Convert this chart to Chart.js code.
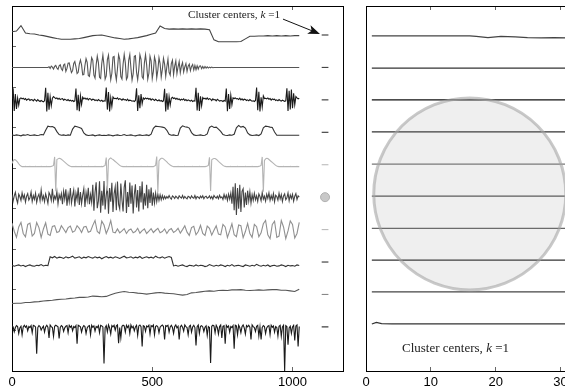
<!DOCTYPE html>
<html>
<head>
<meta charset="utf-8">
<script src="https://cdn.jsdelivr.net/npm/chart.js@4.4.0/dist/chart.umd.min.js"></script>
<style>
  html, body { margin: 0; padding: 0; width: 565px; height: 392px; overflow: hidden; background: #fff; }
  #left { position: absolute; left: 0; top: 0; }
  #right { position: absolute; left: 350px; top: 0; }
  .note { position: absolute; font-family: "Liberation Serif", "DejaVu Serif", serif; color: #222; white-space: nowrap; line-height: 1; }
</style>
</head>
<body>
<canvas id="left" width="350" height="392"></canvas>
<canvas id="right" width="240" height="392"></canvas>
<div class="note" style="left:188px;top:9px;font-size:11.2px">Cluster centers, <i>k</i> =1</div>
<div class="note" style="left:402px;top:341px;font-size:13px">Cluster centers, <i>k</i> =1</div>
<script>
const rowOffset = [100, 90, 80, 70, 60, 50, 40, 30, 20, 10];
const leftTicks = [0, 500, 1000];
const rightTicks = [0, 10, 20, 30];
const rowTickValues = [1, 2, 3, 4, 5, 6, 7, 8];

const trace1 = [1.0,1.2,2.9,0.6,0.4,0.3,0.0,-0.2,-0.5,-0.8,
  -1.1,-1.3,-1.3,-1.3,-1.2,-1.1,-0.8,-0.5,-0.2,-0.1,
  0.0,-0.3,-0.6,-0.9,-1.1,-1.3,-1.2,-1.0,-0.8,-0.5,
  -0.2,0.2,0.6,2.8,2.0,1.8,1.9,1.8,1.9,1.8,
  1.9,1.8,1.9,1.8,1.6,-1.5,-2.1,-2.1,-2.1,-2.1,
  -2.1,-2.0,-1.2,-0.4,-0.4,-0.3,-0.3,-0.2,-0.3,-0.2,
  -0.3,-0.2,-0.3,-0.2,-0.2];

const trace2 = [0,0,0,0,0,0,0,0,0,0,0,0,0,0,0,0,0,0,0,0,
  0,0,0,0,0,0,0,0,0,0,0,0,0,
  0.2,-0.3,0.4,0.1,-0.5,0.3,0.6,-0.2,-0.6,0.5,0.8,-0.4,-0.9,0.7,1.0,
  -1.2,-0.3,1.3,1.4,-0.2,-1.6,-1.0,1.2,1.8,0.2,-1.9,-1.5,1.0,2.3,0.8,-2.3,-2.2,0.6,2.7,1.6,-2.5,-2.8,0.0,3.0,2.2,
  -2.4,-3.3,0.8,3.5,1.5,-3.0,-3.4,1.2,3.8,0.6,-3.6,-2.6,2.4,3.8,-0.5,-3.8,-1.8,3.2,3.4,-1.6,
  -3.9,-0.4,3.9,2.6,-2.8,-3.6,1.0,4.0,1.4,-3.7,-3.0,2.2,4.0,-0.2,-3.9,-2.0,3.4,3.6,-1.5,-3.8,
  -0.6,3.9,2.5,-2.9,-3.5,1.4,3.9,0.8,
  -3.6,-1.8,3.4,2.0,-3.4,-1.2,3.2,1.8,-3.2,-0.8,3.0,1.2,-3.0,-0.6,2.8,1.0,-2.7,0.2,2.6,-1.5,
  -2.4,1.2,2.2,-2.2,0.4,2.0,-1.9,0.2,1.8,-1.6,0.4,1.5,-1.4,0.2,1.2,-1.2,0.4,1.0,-1.0,0.3,
  0.9,-0.8,0.6,-0.7,0.5,-0.5,0.4,0.5,-0.4,0.3,-0.3,0.3,-0.2,0.2,-0.2,0.1,-0.1,0.1,-0.1,0,
  0,0,0,0,0,0,0,0,0,0,0,0,0,0,0,0,0,0,0,0,
  0,0,0,0,0,0,0,0,0,0,0,0,0,0,0,0,0,0,0,0,
  0,0,0,0,0,0,0,0,0,0,0,0,0,0,0,0,0,0,0,0,
  0,0,0,0,0,0,0,0,0,0,0,0,0,0,0,0];

const trace3 = [0.3,3.6,-3.4,1.8,-2.8,0.6,-1.6,0.4,
  0.6,0.3,0.5,0.1,0.4,-0.1,0.2,0.3,-0.2,0.1,0.0,-0.3,0.2,-0.1,-0.4,0.1,-0.3,-0.5,-0.2,-0.4,-0.6,-0.3,
  3.7,-3.6,2.2,-3.0,0.9,-1.8,0.5,1.0,
  0.7,0.4,0.6,0.2,0.5,0.1,0.3,0.4,-0.1,0.2,0.0,-0.2,0.1,-0.3,-0.1,-0.4,-0.2,-0.5,-0.3,
  3.5,-3.2,1.6,-3.5,1.2,-1.4,0.8,0.3,
  0.6,0.2,0.5,0.0,0.4,0.3,-0.1,0.2,0.1,-0.2,0.0,-0.3,0.1,-0.2,-0.4,-0.1,-0.5,-0.3,-0.4,
  3.8,-3.0,2.4,-3.6,0.6,-2.0,0.9,0.4,
  0.5,0.3,0.6,0.1,0.4,0.2,-0.1,0.3,0.0,0.1,-0.2,0.2,-0.3,-0.1,-0.2,-0.4,-0.3,-0.5,-0.2,
  3.6,-3.4,1.4,-2.6,1.8,-1.2,0.6,0.2,
  0.6,0.3,0.5,0.2,0.4,-0.1,0.3,0.1,-0.2,0.2,-0.1,-0.3,0.0,-0.4,-0.2,-0.5,-0.3,
  3.4,-3.6,2.0,-3.0,1.0,-1.6,0.5,0.8,
  0.4,0.6,0.2,0.5,0.1,0.3,-0.1,0.2,0.0,0.3,-0.2,0.1,-0.3,0.0,-0.2,-0.4,-0.1,-0.5,-0.3,-0.4,
  3.7,-3.3,2.2,-3.4,1.1,-1.8,0.7,0.3,
  0.5,0.2,0.6,0.1,0.4,0.2,-0.2,0.3,0.0,0.1,-0.3,0.2,-0.1,-0.4,-0.2,-0.3,-0.5,-0.2,-0.4,
  3.5,-3.5,1.8,-2.8,1.4,-1.5,0.6,0.4,
  0.6,0.3,0.4,0.1,0.5,0.0,0.3,-0.1,0.2,0.1,-0.2,0.0,-0.3,0.1,-0.2,-0.4,-0.3,-0.5,-0.2,
  3.8,-3.2,2.5,-3.6,0.8,-2.2,1.2,0.4,
  0.5,0.3,0.6,0.2,0.4,-0.1,0.3,0.1,0.2,-0.2,0.0,-0.3,0.1,-0.2,-0.4,-0.1,-0.3,-0.5,-0.3,
  3.6,-3.4,2.8,-3.0,3.2,-2.6,2.0,-1.5,1.0,0.6,0.3,0.5];

const trace4 = [-0.8,-1.0,-0.8,-0.9,-1.1,-0.8,-0.9,-0.7,-1.0,-0.9,-0.8,-1.0,-0.9,-0.7,-0.8,
  0.6,1.9,1.7,1.8,1.4,0.2,
  -0.7,-0.9,-0.8,-1.0,-0.8,-0.9,
  1.0,1.9,1.7,1.5,1.2,-0.2,
  -0.8,-1.0,-0.9,-0.8,-1.1,-0.9,-0.8,-1.0,-0.9,-1.0,-0.8,-0.9,-1.1,-0.9,-0.8,
  -1.0,-0.9,-0.7,-1.0,-0.9,-0.8,-1.0,-1.1,-0.9,-0.8,-1.0,-0.9,-0.8,-1.0,-0.6,
  1.2,1.9,1.8,1.7,1.6,1.4,0.6,
  -0.6,-0.9,-0.8,-1.0,-0.9,
  1.3,2.0,1.7,1.6,1.3,-0.1,
  -0.8,-1.0,-0.9,-0.8,-1.0,-0.9,-0.5,
  1.5,1.9,1.5,1.6,1.0,0.3,
  -0.7,-0.9,-1.0,-0.8,-0.9,-0.6,
  1.4,2.1,1.6,1.8,1.3,-0.2,
  -0.8,-1.0,-0.9,-0.8,-1.0,-0.5,
  1.4,1.9,1.8,1.6,1.5,0.1,
  -0.9,-0.9,-0.9,-0.9,-0.9,-0.9,-0.9,-0.9,-0.9,-0.9,-0.9];

const trace5 = [0.4,1.2,1.6,1.5,1.2,0.8,0.3,-0.1,-0.4,-0.6,
  -0.6,-0.6,-0.5,-0.6,-0.6,-0.6,-0.5,-0.6,-0.6,-0.6,-0.6,-0.5,-0.6,-0.6,-0.6,-0.6,-0.5,-0.6,-0.6,-0.6,-0.6,-0.5,-0.6,-0.6,-0.6,-0.5,-0.4,-0.2,
  2.4,-8.2,1.6,1.8,2.0,1.9,1.7,1.4,1.1,0.8,0.5,0.2,-0.1,-0.3,-0.5,-0.6,-0.6,
  -0.6,-0.6,-0.5,-0.6,-0.6,-0.6,-0.6,-0.5,-0.6,-0.6,-0.6,-0.6,-0.6,-0.5,-0.6,-0.6,-0.6,-0.6,-0.6,-0.5,-0.6,-0.6,-0.6,-0.6,-0.6,-0.5,-0.6,-0.4,-0.2,
  2.2,-8.0,1.4,1.9,2.1,1.8,1.6,1.3,1.0,0.7,0.4,0.1,-0.2,-0.4,-0.5,-0.6,-0.6,
  -0.6,-0.5,-0.6,-0.6,-0.6,-0.6,-0.6,-0.5,-0.6,-0.6,-0.6,-0.6,-0.6,-0.6,-0.5,-0.6,-0.6,-0.6,-0.6,-0.6,-0.5,-0.6,-0.6,-0.6,-0.6,-0.6,-0.4,-0.2,
  2.5,-8.4,1.2,1.7,2.0,2.0,1.8,1.5,1.2,0.9,0.5,0.2,-0.1,-0.3,-0.5,-0.6,-0.6,
  -0.6,-0.6,-0.5,-0.6,-0.6,-0.6,-0.6,-0.6,-0.5,-0.6,-0.6,-0.6,-0.6,-0.6,-0.6,-0.5,-0.6,-0.6,-0.6,-0.6,-0.6,-0.5,-0.6,-0.6,-0.6,-0.6,-0.6,-0.5,-0.4,-0.2,
  2.3,-8.1,1.5,1.8,1.9,1.9,1.7,1.4,1.0,0.7,0.4,0.1,-0.2,-0.4,-0.5,-0.6,-0.6,
  -0.6,-0.6,-0.5,-0.6,-0.6,-0.6,-0.6,-0.6,-0.5,-0.6,-0.6,-0.6,-0.6,-0.6,-0.6,-0.5,-0.6,-0.6,-0.6,-0.6,-0.6,-0.5,-0.6,-0.6,-0.6,-0.6,-0.6,-0.5,-0.4,-0.2,
  2.4,-8.3,1.3,1.8,2.0,1.9,1.6,1.3,1.0,0.7,0.4,0.1,-0.2,-0.4,-0.5,-0.6,-0.6,
  -0.6,-0.6,-0.5,-0.6,-0.6,-0.6,-0.6,-0.6,-0.5,-0.6,-0.6,-0.6,-0.6,-0.6,-0.5,-0.6,-0.6];

const trace6 = [0.8,-1.2,0.4,1.5,-0.6,-1.8,0.9,0.2,-1.0,1.3,-0.4,0.7,-1.5,0.3,1.1,-0.9,-0.2,1.6,-1.3,0.5,
  -0.7,1.2,-1.6,0.1,0.9,-1.1,2.2,-0.8,0.4,-1.4,1.0,-0.3,-1.9,1.4,0.6,-1.0,2.6,-1.2,0.3,-0.6,
  1.7,-2.0,0.8,-0.5,1.1,
  -2.2,1.8,-0.6,2.4,-2.6,0.9,-1.4,2.8,-1.8,0.4,2.2,-2.9,1.2,-0.8,3.0,-2.4,1.6,-2.0,0.6,2.6,
  -3.0,1.4,-1.0,2.9,-2.2,0.8,-1.6,
  3.8,-4.2,1.5,4.6,-3.4,-1.2,4.9,-4.8,2.0,-2.6,5.0,-3.8,0.6,3.6,-5.1,2.8,-1.4,4.4,-4.6,1.0,
  3.2,-4.0,4.8,-2.2,-3.6,4.2,-0.8,-4.4,3.0,5.2,-4.9,1.6,-3.0,4.5,-2.0,3.6,-5.0,0.8,4.0,-3.2,
  2.2,-4.4,3.4,-1.6,4.8,-3.8,1.2,-2.6,3.8,-3.4,2.4,-1.8,3.0,-2.6,1.4,
  -1.8,1.2,-1.4,0.9,-1.0,0.7,-0.8,0.5,-0.6,
  0.3,-0.5,0.2,-0.3,0.5,-0.2,-0.6,0.4,0.1,-0.4,0.3,-0.1,-0.5,0.4,0.0,-0.3,0.5,-0.4,0.2,-0.2,
  -0.5,0.3,0.1,-0.4,0.4,-0.1,-0.3,0.5,-0.5,0.2,0.0,-0.4,0.3,-0.2,0.4,-0.5,0.1,0.3,-0.3,-0.1,
  0.4,-0.4,0.2,-0.6,0.5,0.0,-0.3,0.3,-0.5,0.6,-0.2,0.1,-0.7,0.8,-0.4,0.6,-1.0,0.9,-0.6,1.2,
  -2.0,3.2,-4.0,4.3,-5.5,2.8,-3.6,3.8,-4.6,1.8,2.6,-3.2,1.4,-2.4,2.0,-1.2,1.6,-1.8,0.8,-1.0,
  1.2,-0.8,0.4,-1.3,1.0,0.2,-1.1,1.4,-0.6,0.3,-1.2,0.9,-0.4,1.3,-1.0,0.5,-0.7,1.1,-1.4,0.6,
  0.2,-0.9,1.2,-0.5,0.8,-1.3,0.4,1.0,-0.8,-0.2,1.3,-1.1,0.7,-0.4,0.9,-1.2,0.3,1.1,-0.7,0.4,0.0];

const trace7 = [2.0,-0.5,-2.4,0.8,2.2,-1.2,-2.2,1.6,2.0,-2.0,-1.2,2.2,0.6,-2.4,0.2,2.1,-1.4,-1.8,
  1.0,1.2,-0.9,-0.6,1.2,0.2,-0.9,0.6,1.1,-0.8,-0.4,1.2,0.4,-0.9,0.8,1.0,-0.8,-0.5,1.3,
  2.8,-0.6,-1.2,2.6,1.4,-1.2,0.4,2.8,-0.8,-1.0,
  0.2,-1.0,-0.4,0.3,-1.2,-0.2,0.2,-1.0,-0.6,0.4,-1.1,-0.3,0.2,-1.2,-0.5,0.3,-0.9,-0.2,0.4,-1.0,
  -0.6,0.2,-1.2,-0.1,0.3,-0.9,-0.4,0.4,-1.1,0.0,
  1.2,-0.8,-1.8,0.6,1.0,-1.6,-0.6,1.3,-1.2,-1.8,1.1,0.4,-1.7,-0.2,1.2,-1.4,-1.6,
  1.6,0.8,-2.4,-0.4,1.8,-1.6,-2.2,1.4,1.2,-2.5,-0.6,1.9,-1.2,-2.4,1.6,0.9,-2.2,-1.0,1.8,
  2.8,-1.6,-2.8,1.6,2.6,-2.4,-2.0,2.8,0.8,-2.8,-0.4,2.7,1.6,-2.6,-1.2,2.2];

const trace8 = [-1.0,-1.3,-1.1,-0.9,-1.2,-1.0,-1.4,-1.1,-0.9,-1.2,-1.3,-1.0,-1.1,-0.8,-1.2,-1.0,-1.1,
  1.6,1.3,1.7,1.2,1.5,1.4,1.1,1.6,1.3,1.5,1.8,1.2,1.4,1.6,1.1,1.5,1.3,1.7,1.4,1.2,
  1.6,1.3,1.5,1.0,1.4,1.7,1.3,1.5,1.2,1.6,1.4,1.1,1.5,1.8,1.3,1.4,1.6,1.2,1.5,1.3,
  1.7,1.1,1.4,1.6,1.3,1.5,1.2,1.8,1.4,1.3,1.6,1.2,1.5,1.7,1.4,
  -1.2,-1.0,-1.3,-1.1,-0.9,-1.2,-1.4,-1.0,-1.1,-1.3,-0.9,-1.2,-1.0,-1.1,-1.4,-1.2,-0.8,-1.1,-1.3,-1.0,
  -1.2,-0.9,-1.1,-1.4,-1.0,-1.2,-0.8,-1.3,-1.1,-1.0,-1.2,-1.4,-0.9,-1.1,-1.3,-1.0,-1.2,-0.7,-1.1,-1.3,
  -1.0,-1.2,-0.9,-1.4,-1.1,-1.0,-1.3,-1.2,-0.9,-1.1,-1.4,-1.0,-1.2,-1.1,-1.3,-0.9,-1.1];

const trace9 = [-2.8,-2.7,-2.7,-2.5,-2.5,-2.3,-2.2,-2.0,-1.9,-1.8,
  -1.6,-1.5,-1.4,-1.2,-1.1,-0.9,-0.9,-0.8,-0.5,-0.6,
  -0.7,-0.6,-0.1,0.4,0.7,0.9,0.7,0.6,0.4,0.3,
  0.1,0.3,0.5,0.6,0.4,0.3,0.2,0.0,-0.2,0.0,
  0.5,0.6,0.8,1.0,1.1,1.0,1.2,1.3,1.2,1.4,
  1.4,1.5,1.3,1.2,1.3,1.4,1.3,1.4,1.5,1.5,
  1.3,1.3,1.1,0.9,1.6];

const trace10 = [0.3,0.0,-1.5,-0.2,0.4,0.1,-2.0,-0.3,0.2,-2.4,0.0,0.5,-0.1,0.3,-1.2,0.1,-0.2,0.4,-1.8,0.5,
  0.3,0.0,-8.3,-0.2,0.4,0.1,-1.0,-0.3,0.2,-1.6,0.0,0.5,-0.1,-3.4,0.6,0.1,-0.2,-2.9,0.2,0.5,
  0.3,0.0,-3.6,-0.2,0.4,0.1,-1.4,-0.3,0.2,0.4,-1.8,0.5,-0.1,0.3,-1.2,0.1,-0.2,0.4,-5.2,0.5,
  0.3,0.0,-1.6,-0.2,0.4,0.1,-2.0,-0.3,0.2,0.4,-2.4,0.5,-0.1,0.3,-1.3,0.1,-0.2,0.4,-1.8,0.5,
  0.3,0.0,-11.3,-0.2,0.4,-1.5,0.6,-0.3,-2.2,0.4,0.0,0.5,-1.0,0.3,0.6,-5.0,-0.2,-3.4,0.2,0.5,
  0.3,-1.6,0.5,-0.2,0.4,-2.0,0.6,-0.3,0.2,-1.2,0.0,0.5,-2.6,0.3,0.6,0.1,-6.0,0.4,0.2,-1.4,
  0.3,0.0,0.5,-2.2,0.4,0.1,0.6,-2.4,0.2,0.4,0.0,-1.8,-0.1,0.3,0.6,0.1,-3.9,0.4,0.2,0.5,
  -1.6,0.0,0.5,-0.2,-2.0,0.1,0.6,-0.3,0.2,-3.9,0.0,0.5,-0.1,-1.3,0.6,0.1,-0.2,-2.4,0.2,0.5,
  -1.6,0.0,0.5,-0.2,-5.7,0.1,0.6,-2.0,0.2,0.4,0.0,-1.4,-0.1,0.3,-2.6,0.1,-0.2,-11.1,0.2,0.5,
  0.3,-1.8,0.5,-0.2,-2.2,0.1,0.6,-3.4,0.2,0.4,-5.2,0.5,-0.1,0.3,-1.6,0.1,-0.2,0.4,-6.7,0.5,
  0.3,-2.4,0.5,-0.2,-1.8,0.1,0.6,-0.3,-2.2,0.4,0.0,0.5,-0.1,-3.9,0.6,0.1,-0.2,-1.4,0.2,0.5,
  -2.8,0.0,-3.9,-0.2,0.4,0.1,-2.0,-0.3,0.2,0.4,-2.4,0.5,-0.1,0.3,-1.6,0.1,-0.2,-2.8,0.2,0.5,
  -2.9,0.0,0.5,-13.7,0.4,0.1,-5.5,-0.3,0.2,-2.0,0.0,0.5,-4.2,0.3,0.6,-6.0,0.1];

// cluster-center marks on the left panel and the arrow of the note
const centerMarkX = [1104, 1128];
const centerDotX = 1116;
const arrowFrom = [966, 104.9];
const arrowTo = [1098, 100.3];

// right panel: cluster centres, k = 1
const centerX = [0.9, 1.6, 2.4, 4, 8, 12, 16, 17, 18.8, 20.8, 23, 24.9, 27, 29, 31, 33];
const center1 = [99.7,99.7,99.7,99.7,99.7,99.7,99.7,99.6,99.2,99.6,99.4,99.2,99.1,99.2,99.1,99.1];
const center2 = [89.8,89.8,89.8,89.8,89.8,89.8,89.8,89.8,89.8,89.8,89.8,89.8,89.8,89.8,89.8,89.8];
const center3 = [80.0,80.0,80.0,80.0,80.0,80.0,80.0,80.0,80.0,80.0,80.0,80.0,80.0,80.0,80.0,80.0];
const center4 = [70.1,70.1,70.1,70.1,70.1,70.1,70.1,70.1,70.1,70.1,70.1,70.1,70.1,70.1,70.1,70.1];
const center5 = [60.2,60.2,60.2,60.2,60.2,60.2,60.2,60.2,60.2,60.2,60.2,60.2,60.2,60.2,60.2,60.2];
const center6 = [50.3,50.3,50.3,50.3,50.3,50.3,50.3,50.3,50.3,50.3,50.3,50.3,50.3,50.3,50.3,50.3];
const center7 = [40.4,40.4,40.4,40.4,40.4,40.4,40.4,40.4,40.4,40.4,40.4,40.4,40.4,40.4,40.4,40.4];
const center8 = [30.6,30.6,30.6,30.6,30.6,30.6,30.6,30.6,30.6,30.6,30.6,30.6,30.6,30.6,30.6,30.6];
const center9 = [20.8,20.8,20.8,20.8,20.8,20.8,20.8,20.8,20.8,20.8,20.8,20.8,20.8,20.8,20.8,20.8];
const center10 = [10.9,11.4,11.0,10.9,10.9,10.9,10.9,10.9,10.9,10.9,10.9,10.9,10.9,10.9,10.9,10.9];
const bigCircle = { x: 16, y: 51 };

// ---- styles
const traceColors = ['#444', '#555', '#1a1a1a', '#333', '#b4b4b4', '#444', '#909090', '#333', '#555', '#1a1a1a'];
const markColors = ['#333', '#444', '#333', '#333', '#bbb', null, '#bbb', '#333', '#888', '#222'];
const centerColors = ['#444', '#333', '#111', '#333', '#777', '#555', '#666', '#333', '#444', '#333'];

Chart.defaults.font.family = '"Liberation Sans", Arial, sans-serif';
Chart.defaults.animation = false;

const traces = [trace1, trace2, trace3, trace4, trace5, trace6, trace7, trace8, trace9, trace10];
const centers = [center1, center2, center3, center4, center5, center6, center7, center8, center9, center10];

function toPoints(vals, offset) {
  const step = 1024 / (vals.length - 1);
  return vals.map((v, i) => ({ x: i * step, y: offset + v }));
}

function lineSet(data, color, width) {
  return { data, borderColor: color, borderWidth: width || 1.1, pointRadius: 0, fill: false, tension: 0,
           xAxisID: 'x', yAxisID: 'y' };
}

const tickFont = { size: 13 };
const inwardGrid = { drawOnChartArea: false, tickLength: -4, color: '#666', lineWidth: 1 };
const frame = { color: '#000', width: 1 };

function xAxes(max, tickVals) {
  const setTicks = s => { s.ticks = tickVals.map(v => ({ value: v })); };
  return {
    x: { type: 'linear', position: 'bottom', min: 0, max,
         afterBuildTicks: setTicks, afterFit: s => { s.height = 21; },
         ticks: { color: '#000', font: tickFont, padding: 8, maxRotation: 0, autoSkip: false,
                  callback: v => String(v) },
         grid: inwardGrid, border: frame },
    xt: { type: 'linear', position: 'top', min: 0, max,
          afterBuildTicks: setTicks, afterFit: s => { s.height = 0; },
          ticks: { display: false }, grid: inwardGrid, border: frame }
  };
}

const arrowPlugin = {
  id: 'noteArrow',
  afterDraw(chart) {
    const { ctx, scales: { x, y } } = chart;
    const x0 = x.getPixelForValue(arrowFrom[0]), y0 = y.getPixelForValue(arrowFrom[1]);
    const x1 = x.getPixelForValue(arrowTo[0]), y1 = y.getPixelForValue(arrowTo[1]);
    const a = Math.atan2(y1 - y0, x1 - x0), c = Math.cos(a), s = Math.sin(a);
    ctx.save();
    ctx.strokeStyle = '#111';
    ctx.fillStyle = '#111';
    ctx.lineWidth = 1;
    ctx.beginPath();
    ctx.moveTo(x0, y0);
    ctx.lineTo(x1 - 8 * c, y1 - 8 * s);
    ctx.stroke();
    ctx.beginPath();
    ctx.moveTo(x1, y1);
    ctx.lineTo(x1 - 12 * c + 4.5 * s, y1 - 12 * s - 4.5 * c);
    ctx.lineTo(x1 - 9 * c, y1 - 9 * s);
    ctx.lineTo(x1 - 12 * c - 4.5 * s, y1 - 12 * s + 4.5 * c);
    ctx.closePath();
    ctx.fill();
    ctx.restore();
  }
};

// ---- left panel
const leftSets = traces.map((t, k) => lineSet(toPoints(t, rowOffset[k]), traceColors[k]));
markColors.forEach((col, k) => {
  if (!col) return;
  leftSets.push(lineSet([{ x: centerMarkX[0], y: rowOffset[k] }, { x: centerMarkX[1], y: rowOffset[k] }], col));
});
leftSets.push({ data: [{ x: centerDotX, y: rowOffset[5] }], showLine: false, pointRadius: 4.5,
  pointBackgroundColor: '#c8c8c8', pointBorderColor: '#b0b0b0', pointBorderWidth: 1,
  xAxisID: 'x', yAxisID: 'y' });

new Chart(document.getElementById('left'), {
  type: 'line',
  data: { datasets: leftSets },
  options: {
    responsive: false,
    devicePixelRatio: 1,
    layout: { autoPadding: false, padding: { left: 12, right: 7, top: 6, bottom: 0 } },
    plugins: { legend: { display: false }, tooltip: { enabled: false } },
    scales: Object.assign(xAxes(1180, leftTicks), {
      y: { type: 'linear', min: -3.6, max: 108.94, display: false },
      yt: { type: 'linear', position: 'left', min: 0, max: 9.012,
            afterBuildTicks: s => { s.ticks = rowTickValues.map(v => ({ value: v })); },
            afterFit: s => { s.width = 0; },
            ticks: { display: false }, grid: inwardGrid, border: frame },
      yr: { type: 'linear', position: 'right', afterFit: s => { s.width = 0; },
            ticks: { display: false }, grid: { drawOnChartArea: false, drawTicks: false }, border: frame }
    })
  },
  plugins: [arrowPlugin]
});

// ---- right panel
const rightSets = [{
  data: [bigCircle], showLine: false, pointRadius: 96, order: -1,
  pointBackgroundColor: 'rgba(140,140,140,0.14)', pointBorderColor: 'rgba(165,165,165,0.6)',
  pointBorderWidth: 3, xAxisID: 'x', yAxisID: 'y'
}];
centers.forEach((c, k) => {
  rightSets.push(lineSet(c.map((v, i) => ({ x: centerX[i], y: v })), centerColors[k], 1.2));
});

new Chart(document.getElementById('right'), {
  type: 'line',
  data: { datasets: rightSets },
  options: {
    responsive: false,
    devicePixelRatio: 1,
    layout: { autoPadding: false, padding: { left: 16, right: 10, top: 6, bottom: 0 } },
    plugins: { legend: { display: false }, tooltip: { enabled: false } },
    scales: Object.assign(xAxes(33, rightTicks), {
      y: { type: 'linear', position: 'left', min: -3.6, max: 108.94,
           afterFit: s => { s.width = 0; },
           ticks: { display: false }, grid: { drawOnChartArea: false, drawTicks: false }, border: frame }
    })
  }
});
</script>
</body>
</html>
